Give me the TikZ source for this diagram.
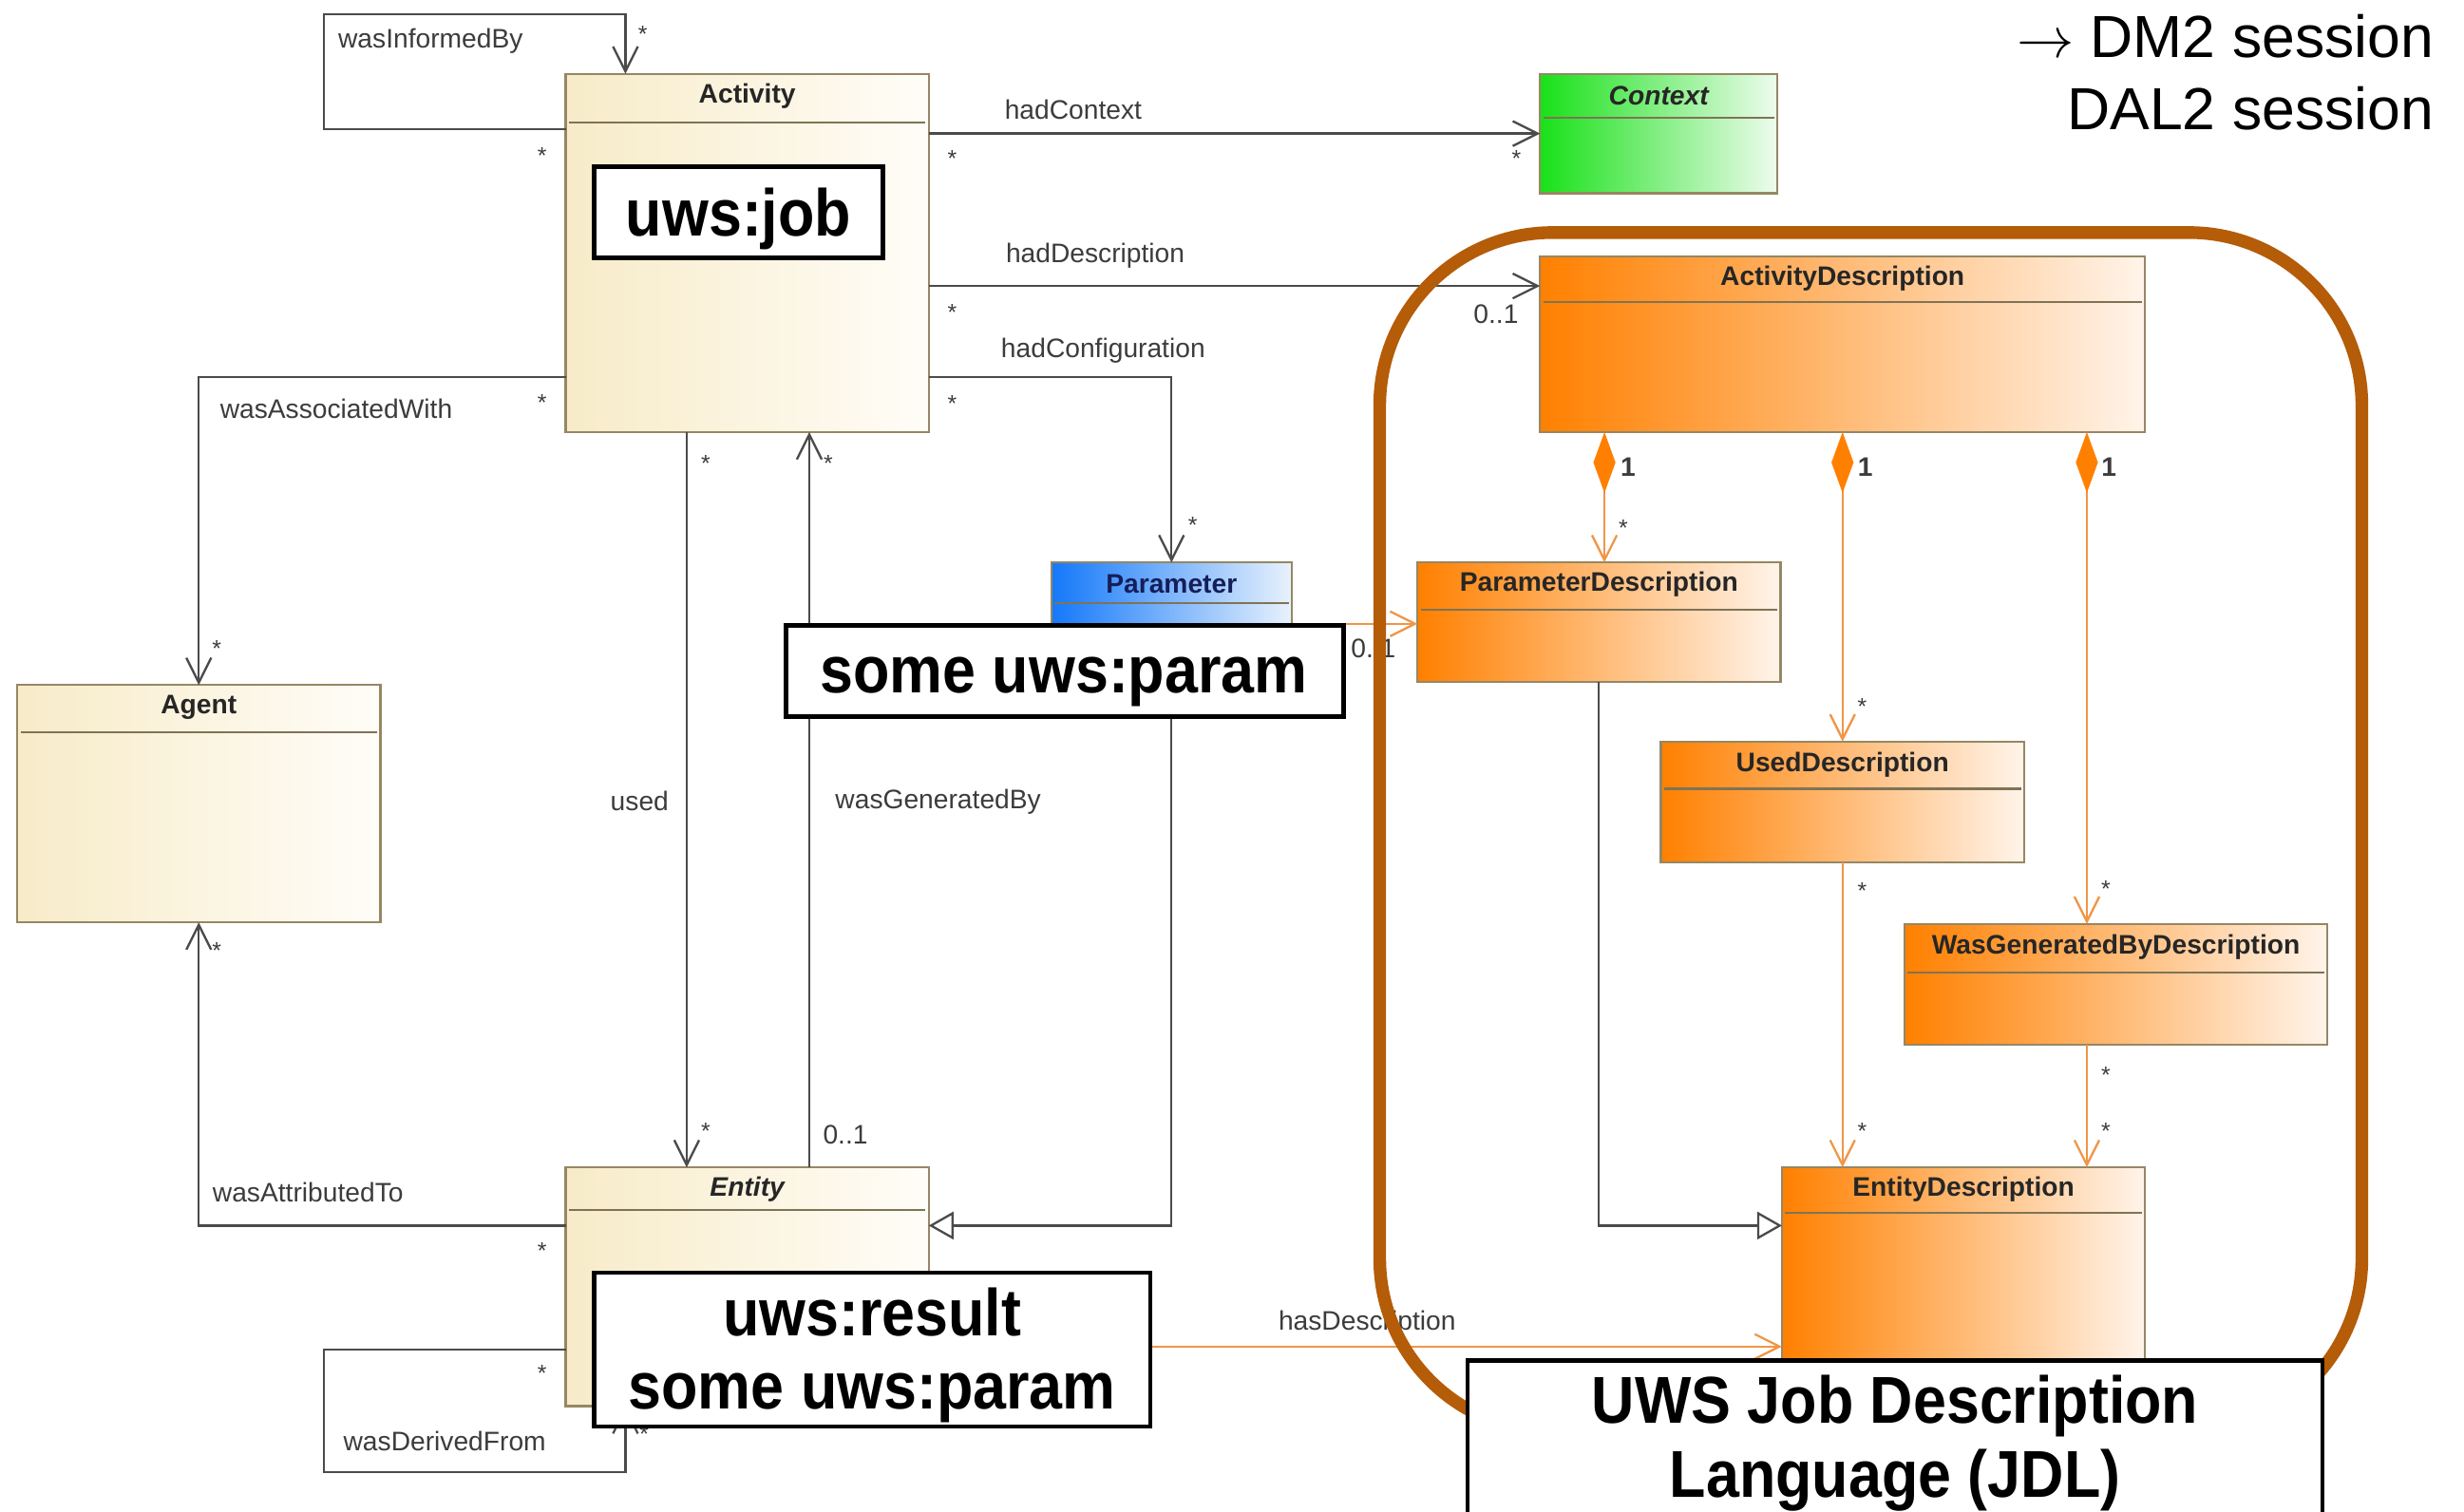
\documentclass[tikz,border=0pt]{standalone}
\usepackage{fontspec}
\setmainfont{Liberation Sans}
\newfontfamily\annfont[FakeStretch=0.9]{Liberation Sans}
\usetikzlibrary{arrows.meta,calc}
\definecolor{creamL}{RGB}{247,235,200}
\definecolor{creamR}{RGB}{255,253,248}
\definecolor{boxborder}{RGB}{150,135,100}
\definecolor{orgL}{RGB}{255,128,0}
\definecolor{orgR}{RGB}{255,244,234}
\definecolor{grnL}{RGB}{25,225,25}
\definecolor{grnR}{RGB}{238,252,238}
\definecolor{bluL}{RGB}{20,120,250}
\definecolor{bluR}{RGB}{232,242,252}
\definecolor{framecol}{RGB}{180,92,8}
\definecolor{lineorg}{RGB}{240,150,70}
\definecolor{linegray}{RGB}{75,75,75}
\definecolor{labgray}{RGB}{60,60,60}
\newcommand{\umlclass}[7]{%
  \node[classbox, minimum width=#4*0.2mm, minimum height=#5*0.2mm, #6] (#1) at (#2,#3) {};
  \draw[sepline] ($(#1.north west)+(2,#7)$) -- ($(#1.north east)+(-2,#7)$);
}
\tikzset{
  classbox/.style={draw=boxborder, line width=0.8pt, outer sep=0pt, inner sep=0pt, anchor=north west},
  cream/.style={left color=creamL, right color=creamR},
  orng/.style={left color=orgL, right color=orgR},
  grn/.style={left color=grnL, right color=grnR},
  blu/.style={left color=bluL, right color=bluR},
  sepline/.style={draw=boxborder!85!black, line width=0.7pt},
  ctitle/.style={font=\fontsize{9.7}{11}\selectfont\bfseries, text=black!85, inner sep=0pt},
  assoc/.style={draw=linegray, line width=0.8pt, -{Straight Barb[length=9pt,width=9pt]}},
  orgassoc/.style={draw=lineorg, line width=0.8pt, -{Straight Barb[length=9pt,width=9pt]}},
  comp/.style={draw=lineorg, line width=0.8pt, {Diamond[length=22pt,width=8pt,color=orgL]}-{Straight Barb[length=9pt,width=9pt]}},
  gen/.style={draw=linegray, line width=0.8pt, -{Triangle[open,fill=white,length=9pt,width=10pt]}},
  lab/.style={font=\fontsize{9.7}{11}\selectfont, text=labgray, inner sep=0pt},
  mult/.style={font=\fontsize{8.5}{10}\selectfont, text=labgray, inner sep=0pt},
  annot/.style={draw=black, line width=1.6pt, fill=white, inner sep=0pt, outer sep=0pt, anchor=north west},
  anntext/.style={font=\annfont\bfseries\fontsize{24}{27}\selectfont, inner sep=0pt, anchor=base},
  framebox/.style={draw=framecol, line width=4.6pt, rounded corners=22mm}
}
\begin{document}
\begin{tikzpicture}[x=0.2mm, y=-0.2mm]
\useasboundingbox (0,0) rectangle (1568,962);
\fill[white] (0,0) rectangle (1568,962);

% ---------- classes ----------
\umlclass{act}{360}{47}{231}{228}{cream}{31}
\umlclass{agent}{11}{436}{231}{151}{cream}{30}
\umlclass{ent}{360}{743}{231}{152}{cream}{27}
\umlclass{ctx}{980}{47}{151}{76}{grn}{28}
\umlclass{par}{669}{358}{153}{76}{blu}{26}
\umlclass{actd}{980}{163}{385}{112}{orng}{29}
\umlclass{pd}{902}{358}{231}{76}{orng}{30}
\umlclass{ud}{1057}{472}{231}{77}{orng}{30}
\umlclass{wgbd}{1212}{588}{269}{77}{orng}{31}
\umlclass{ed}{1134}{743}{231}{165}{orng}{29}

\node[ctitle] (act-t) at ($(act.north)+(0,14)$) {Activity};
\node[ctitle] (agent-t) at ($(agent.north)+(0,14)$) {Agent};
\node[ctitle, font=\fontsize{9.7}{11}\selectfont\bfseries\itshape] (ent-t) at ($(ent.north)+(0,14)$) {Entity};
\node[ctitle, font=\fontsize{9.7}{11}\selectfont\bfseries\itshape] (ctx-t) at ($(ctx.north)+(0,14)$) {Context};
\node[ctitle, text={rgb,255:red,20;green,30;blue,90}] (par-t) at ($(par.north)+(0,14)$) {Parameter};
\node[ctitle] (actd-t) at ($(actd.north)+(0,14)$) {ActivityDescription};
\node[ctitle] (pd-t) at ($(pd.north)+(0,14)$) {ParameterDescription};
\node[ctitle] (ud-t) at ($(ud.north)+(0,15)$) {UsedDescription};
\node[ctitle] (wgbd-t) at ($(wgbd.north)+(0,15)$) {WasGeneratedByDescription};
\node[ctitle] (ed-t) at ($(ed.north)+(0,14)$) {EntityDescription};

% ---------- connectors ----------
\draw[assoc] ($(act.north west)+(0,35)$) -| (206,9) -| ($(act.north west)+(38,0)$);
\draw[assoc] (act.east |- ctx.west) -- (ctx.west);
\coordinate (hd) at ($(actd.north west)+(0,19)$);
\draw[assoc] (act.east |- hd) -- (hd);
\draw[assoc] ($(act.north east)+(0,193)$) -| (par.north);
\draw[assoc] ($(act.north west)+(0,193)$) -| (agent.north);
\draw[assoc] ($(act.south west)+(77,0)$) -- ($(ent.north west)+(77,0)$);
\draw[assoc] ($(ent.north west)+(155,0)$) -- ($(act.south west)+(155,0)$);
\draw[assoc] ($(ent.north west)+(0,37)$) -| (agent.south);
\draw[assoc] ($(ent.north west)+(0,116)$) -| (206,937) -| ($(ent.south west)+(38,0)$);
\draw[gen] (par.south) |- ($(ent.north east)+(0,37)$);
\draw[orgassoc] ($(par.north east)+(0,39)$) -- ($(pd.north west)+(0,39)$);
\draw[orgassoc] ($(ent.north east)+(0,114)$) -- ($(ed.north west)+(0,114)$);
\draw[gen] (pd.south) |- ($(ed.north west)+(0,37)$);
\coordinate (c1) at ($(actd.south west)+(41,0)$);
\coordinate (c2) at (actd.south west -| ud.north);
\coordinate (c3) at ($(actd.south west)+(348,0)$);
\draw[comp] (c1) -- (c1 |- pd.north);
\draw[comp] (c2) -- (ud.north);
\draw[comp] (c3) -- (c3 |- wgbd.north);
\draw[orgassoc] (ud.south) -- (ud.south |- ed.north);
\draw[orgassoc] (c3 |- wgbd.south) -- (c3 |- ed.north);

% ---------- connector labels ----------
\node[lab] (l1) at (274,26) {wasInformedBy};
\node[lab] (l2) at (683,70) {hadContext};
\node[lab] (l3) at (697,163) {hadDescription};
\node[lab] (l4) at (702,223) {hadConfiguration};
\node[lab] (l5) at (214,260) {wasAssociatedWith};
\node[lab] (l6) at (407,510) {used};
\node[lab] (l7) at (597,510) {wasGeneratedBy};
\node[lab] (l8) at (196,759) {wasAttributedTo};
\node[lab] (l9) at (283,917) {wasDerivedFrom};
\node[lab] (l10) at (870,842) {hasDescription};

% ---------- multiplicities ----------
\node[mult] (m1) at (409,22) {*};
\node[mult] (m2) at (345,99) {*};
\node[mult] (m3) at (606,101) {*};
\node[mult] (m4) at (965,101) {*};
\node[mult] (m5) at (606,199) {*};
\node[lab] (m6) at (952,200) {0..1};
\node[mult] (m7) at (606,257) {*};
\node[mult] (m8) at (759,334) {*};
\node[mult] (m9) at (345,256) {*};
\node[mult] (m10) at (138,413) {*};
\node[mult] (m11) at (449,295) {*};
\node[mult] (m12) at (449,720) {*};
\node[mult] (m13) at (527,295) {*};
\node[lab] (m14) at (538,722) {0..1};
\node[mult] (m15) at (138,605) {*};
\node[mult] (m16) at (345,796) {*};
\node[mult] (m17) at (345,874) {*};
\node[mult] (m18) at (410,913) {*};
\node[lab] (m19) at (874,413) {0..1};
\node[lab, font=\fontsize{9.7}{11}\selectfont\bfseries] (m20) at (1036,297) {1};
\node[lab, font=\fontsize{9.7}{11}\selectfont\bfseries] (m21) at (1187,297) {1};
\node[lab, font=\fontsize{9.7}{11}\selectfont\bfseries] (m22) at (1342,297) {1};
\node[mult] (m23) at (1033,336) {*};
\node[mult] (m24) at (1185,450) {*};
\node[mult] (m25) at (1340,566) {*};
\node[mult] (m26) at (1185,567) {*};
\node[mult] (m27) at (1185,720) {*};
\node[mult] (m28) at (1340,684) {*};
\node[mult] (m29) at (1340,720) {*};

% ---------- JDL frame ----------
\draw[framebox] (878,148) rectangle (1503,911);

% ---------- annotation boxes ----------
\node[annot, minimum width=184*0.2mm, minimum height=58*0.2mm] (ajob) at (378,106) {};
\node[anntext] (ajob-t) at (470,150) {uws:job};
\node[annot, minimum width=355*0.2mm, minimum height=58*0.2mm] (aparam) at (500,398) {};
\node[anntext] (aparam-t) at (677,441) {some uws:param};
\node[annot, minimum width=354*0.2mm, minimum height=98*0.2mm] (aresult) at (378,810) {};
\node[anntext] (aresult-t1) at (555,850) {uws:result};
\node[anntext] (aresult-t2) at (555,897) {some uws:param};
\node[annot, minimum width=544*0.2mm, minimum height=110*0.2mm] (ajdl) at (934,866) {};
\node[anntext] (ajdl-t1) at (1206,906) {UWS Job Description};
\node[anntext] (ajdl-t2) at (1206,953) {Language (JDL)};

% ---------- session note ----------
\node[anchor=east, inner sep=0pt, font=\fontsize{21.5}{24}\selectfont] (dm2) at (1549,23) {$\rightarrow$ DM2 session};
\node[anchor=east, inner sep=0pt, font=\fontsize{21.5}{24}\selectfont] (dal2) at (1549,69) {DAL2 session};
\end{tikzpicture}
\end{document}
